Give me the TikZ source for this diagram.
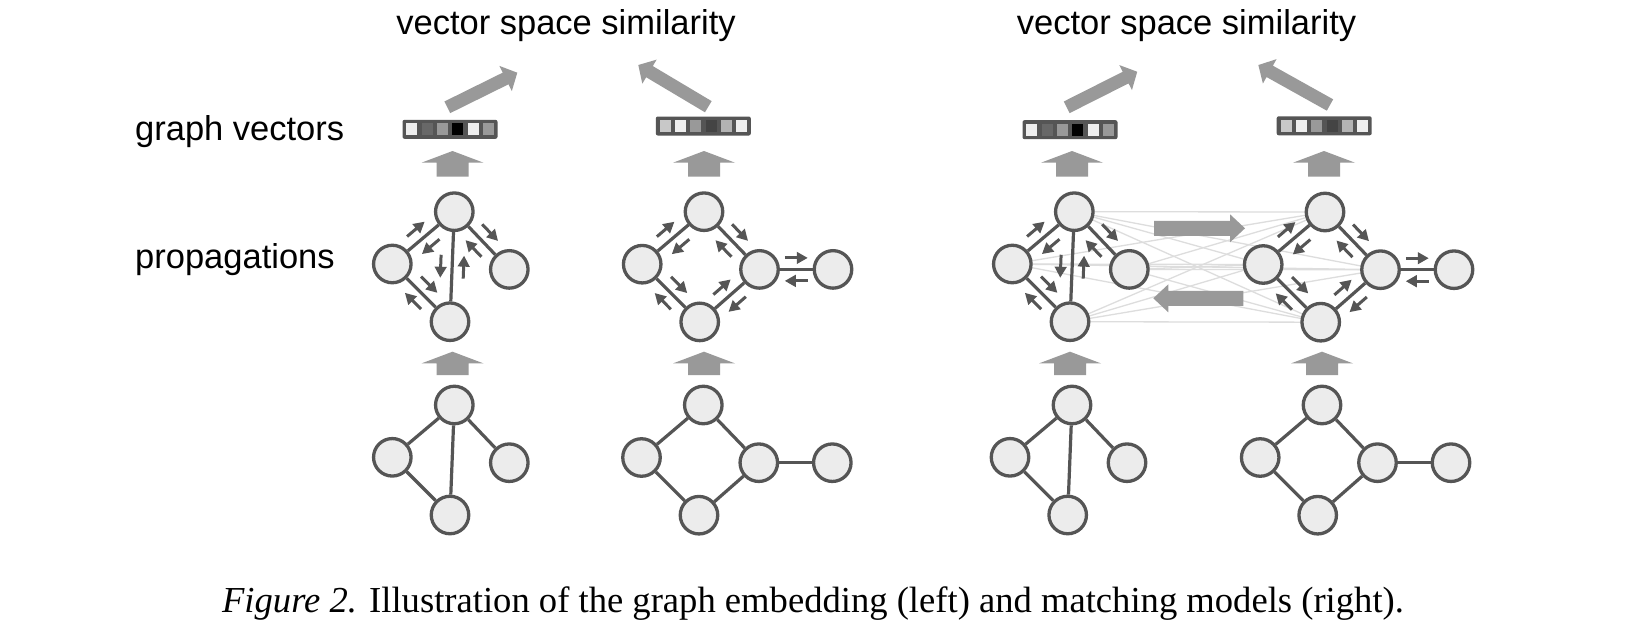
\documentclass[tikz,border=0pt]{standalone}
\usepackage{fontspec}
\setmainfont{Liberation Serif}
\newfontfamily\arialfont{Liberation Sans}
\usetikzlibrary{arrows.meta,decorations.markings,backgrounds,calc}
\definecolor{edgecol}{HTML}{555555}
\definecolor{nodefill}{HTML}{ECECEC}
\definecolor{bigfill}{HTML}{999999}
\definecolor{crosscol}{HTML}{DDDDDD}
\definecolor{cEE}{HTML}{EEEEEE}
\definecolor{c66}{HTML}{686868}
\definecolor{c99}{HTML}{999999}
\definecolor{c00}{HTML}{000000}
\definecolor{cC8}{HTML}{C8C8C8}
\definecolor{c44}{HTML}{444444}
\definecolor{cB3}{HTML}{B3B3B3}
\tikzset{
  gnode/.style={circle, draw=edgecol, fill=nodefill, line width=3.3pt, minimum size=37.5pt, inner sep=0pt},
  gedge/.style={draw=edgecol, line width=3.2pt},
  msg/.style={draw=edgecol, line width=3pt, -{Triangle[length=11pt,width=11.5pt]}},
  plain/.style={},
  msgL/.style={postaction={decorate}, decoration={markings, mark=at position 0.5 with {%
      \draw[msg] (-11.5pt,11.5pt) -- (11.5pt,11.5pt);
      \draw[msg] (11.5pt,-11.5pt) -- (-11.5pt,-11.5pt);}}},
  msgR/.style={postaction={decorate}, decoration={markings, mark=at position 0.5 with {%
      \draw[msg] (-11.5pt,-11.5pt) -- (11.5pt,-11.5pt);
      \draw[msg] (11.5pt,11.5pt) -- (-11.5pt,11.5pt);}}},
  bigarrow/.style n args={3}{postaction={decorate}, decoration={markings, mark=at position 0 with {%
      \fill[bigfill] (0pt,#1) -- (\pgfdecoratedpathlength-#3,#1) -- (\pgfdecoratedpathlength-#3,#2)
        -- (\pgfdecoratedpathlength,0pt) -- (\pgfdecoratedpathlength-#3,-#2)
        -- (\pgfdecoratedpathlength-#3,-#1) -- (0pt,-#1) -- cycle;}}},
  crossline/.style={draw=crosscol, line width=1.3pt},
  vecbox/.style={rectangle, fill=edgecol, minimum width=95pt, minimum height=19pt, inner sep=0pt, rounded corners=2pt},
  vcell/.style={rectangle, minimum width=11pt, minimum height=12.3pt, inner sep=0pt},
  lbl/.style={font=\arialfont\fontsize{34.5}{40}\selectfont, inner sep=0pt},
}
% graph with 4 nodes: T, L, R, B
\newcommand{\graphA}[5]{%
  \begin{scope}[shift={(#2,#3)}]
    \node[gnode] (#1T) at (0,0) {};
    \node[gnode] (#1L) at (-62,52.3) {};
    \node[gnode] (#1R) at (55,57.7) {};
    \node[gnode] (#1B) at (-4.3,110) {};
  \end{scope}
  \draw[gedge,#4] (#1L) -- (#1T);
  \draw[gedge,#4] (#1T) -- (#1R);
  \draw[gedge,#5] (#1T) -- (#1B);
  \draw[gedge,#4] (#1L) -- (#1B);
}
% graph with 5 nodes: T, L, M, F, B
\newcommand{\graphB}[4]{%
  \begin{scope}[shift={(#2,#3)}]
    \node[gnode] (#1T) at (0,0) {};
    \node[gnode] (#1L) at (-61.8,52.5) {};
    \node[gnode] (#1M) at (55.5,57.7) {};
    \node[gnode] (#1F) at (129,57.7) {};
    \node[gnode] (#1B) at (-4.3,110.2) {};
  \end{scope}
  \draw[gedge,#4] (#1L) -- (#1T);
  \draw[gedge,#4] (#1T) -- (#1M);
  \draw[gedge,#4] (#1M) -- (#1F);
  \draw[gedge,#4] (#1L) -- (#1B);
  \draw[gedge,#4] (#1B) -- (#1M);
}
% graph vector: name, x, y, list of six colours
\newcommand{\vbar}[4]{%
  \node[vecbox] (#1) at (#2,#3) {};
  \foreach \col [count=\i from 0] in {#4}
    \node[vcell, fill=\col] (#1-\i) at ($(#1.west)+(9.6+15.33*\i,0)$) {};
}
\begin{document}
\begin{tikzpicture}[x=1pt,y=-1pt]
\useasboundingbox (0,0) rectangle (1630,634);
\begin{pgfonlayer}{background}
  \fill[white] (0,0) rectangle (1630,634);
\end{pgfonlayer}

% labels
\node[lbl, anchor=base] (simL) at (566,34.5) {vector space similarity};
\node[lbl, anchor=base] (simR) at (1186.5,34.5) {vector space similarity};
\node[lbl, anchor=base west] (gvec) at (135,140) {graph vectors};
\node[lbl, anchor=base west] (prop) at (135,268) {propagations};

% graphs
\graphA{a}{454.3}{405}{plain}{plain}
\graphA{am}{454.3}{211.7}{msgL}{msgR}
\graphB{b}{703.3}{405}{plain}
\graphB{bm}{704}{211.7}{msgL}
\graphA{cm}{1074.3}{211.7}{msgL}{msgR}
\graphA{c}{1072}{405}{plain}{plain}
\graphB{dm}{1325}{212}{msgL}
\graphB{d}{1322}{405}{plain}

% cross-graph attention lines (behind the nodes)
\begin{pgfonlayer}{background}
  \foreach \u in {cmT,cmL,cmR,cmB}
    \foreach \v in {dmT,dmL,dmM,dmB}
      \draw[crossline] (\u.center) -- (\v.center);
\end{pgfonlayer}

% graph vectors
\vbar{va}{450}{129.3}{cEE,c66,c99,c00,cEE,c99}
\vbar{vb}{703.3}{126}{cC8,cEE,c99,c44,cB3,cEE}
\vbar{vc}{1070}{129.7}{cEE,c66,c99,c00,cEE,c99}
\vbar{vd}{1324.2}{125.8}{cC8,cEE,c99,c44,cB3,cEE}

% up arrows (bottom -> propagation)
\coordinate (ua1) at (452.5,375);  \coordinate (ua2) at (452.5,351.7);
\coordinate (ub1) at (704,375);    \coordinate (ub2) at (704,351.7);
\coordinate (uc1) at (1070,375);   \coordinate (uc2) at (1070,351.7);
\coordinate (ud1) at (1322,375);   \coordinate (ud2) at (1322,351.7);
\foreach \p in {ua,ub,uc,ud}
  \path[bigarrow={16pt}{31pt}{11.7pt}] (\p1) -- (\p2);

% up arrows (propagation -> vector)
\coordinate (va1) at (452.5,176.7); \coordinate (va2) at (452.5,151);
\coordinate (vb1) at (704,176.7);   \coordinate (vb2) at (704,151);
\coordinate (vc1) at (1072,176.7);  \coordinate (vc2) at (1072,151);
\coordinate (vd1) at (1324,176.7);  \coordinate (vd2) at (1324,151);
\foreach \p in {va,vb,vc,vd}
  \path[bigarrow={16pt}{31pt}{11.7pt}] (\p1) -- (\p2);

% diagonal arrows to similarity
\coordinate (sa1) at (447.3,107.3);  \coordinate (sa2) at (517.3,72.7);
\coordinate (sb1) at (708.3,106.7);  \coordinate (sb2) at (638.3,65);
\coordinate (sc1) at (1066.7,107.3); \coordinate (sc2) at (1137.3,71.7);
\coordinate (sd1) at (1330,105);     \coordinate (sd2) at (1258.3,65);
\foreach \p in {sa,sb,sc,sd}
  \path[bigarrow={6.5pt}{14pt}{13pt}] (\p1) -- (\p2);

% matching arrows
\coordinate (mr1) at (1154,228.3);   \coordinate (mr2) at (1245,228.3);
\coordinate (ml1) at (1243.3,298.3); \coordinate (ml2) at (1153.3,298.3);
\path[bigarrow={7.5pt}{14pt}{15pt}] (mr1) -- (mr2);
\path[bigarrow={7.5pt}{14pt}{15pt}] (ml1) -- (ml2);

% caption
\node[anchor=base, inner sep=0pt, font=\fontsize{36.6}{40}\selectfont] (caption) at (813,612)
  {\textit{Figure 2.} Illustration of the graph embedding (left) and matching models (right).};
\end{tikzpicture}
\end{document}
